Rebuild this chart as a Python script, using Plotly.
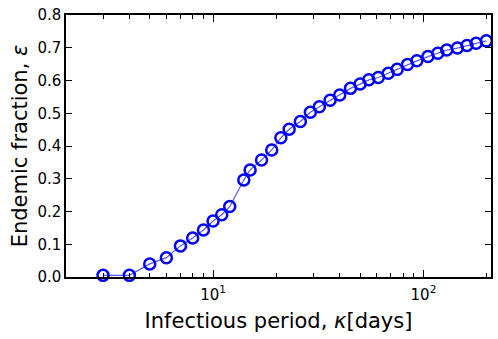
import plotly.graph_objects as go
import numpy as np

kappa = [3, 4, 5, 6, 7, 8, 9, 10, 11, 12, 14, 15, 17, 19, 21, 23, 26, 29, 32, 36,
         40, 45, 50, 55, 61, 68, 75, 84, 93, 105, 117, 129, 145, 161, 178, 199]
epsilon = [0.005, 0.005, 0.040, 0.059, 0.095, 0.119, 0.1435, 0.171, 0.190, 0.215,
           0.296, 0.327, 0.357, 0.388, 0.425, 0.451, 0.475, 0.503, 0.520, 0.540,
           0.556, 0.576, 0.589, 0.602, 0.609, 0.622, 0.634, 0.649, 0.660, 0.673,
           0.683, 0.693, 0.699, 0.707, 0.714, 0.721]

x_tickvals = [10, 100]
x_ticktext = ["10<sup>1</sup>", "10<sup>2</sup>"]
x_minor = [2, 3, 4, 5, 6, 7, 8, 9, 20, 30, 40, 50, 60, 70, 80, 90, 200]
y_tickvals = [0.0, 0.1, 0.2, 0.3, 0.4, 0.5, 0.6, 0.7, 0.8]

fig = go.Figure()
fig.add_trace(go.Scatter(
    x=kappa, y=epsilon, mode="lines+markers",
    line=dict(color="rgba(0,0,255,0.65)", width=1.2),
    marker=dict(symbol="circle-open", size=11, color="blue", line=dict(width=2.5, color="blue")),
    cliponaxis=False, showlegend=False,
))

font = "DejaVu Sans, sans-serif"
fig.update_layout(
    width=498, height=339,
    margin=dict(l=66, r=7, t=15, b=62, autoexpand=False),
    paper_bgcolor="white", plot_bgcolor="white",
    font=dict(family=font, color="black"),
    xaxis=dict(
        type="log", range=[np.log10(2), 2.321], automargin=False,
        tickvals=x_tickvals, ticktext=x_ticktext, ticklabelstandoff=3,
        ticks="inside", ticklen=7, tickwidth=1, tickcolor="black",
        minor=dict(tickvals=x_minor, ticks="inside", ticklen=4, tickwidth=1, tickcolor="black"),
        showline=True, linecolor="black", linewidth=1.5, mirror="ticks",
        showgrid=False, zeroline=False,
        tickfont=dict(size=15, family=font),
        title=dict(text="Infectious period, <i>κ</i>[days]", font=dict(size=21, family=font), standoff=11),
    ),
    yaxis=dict(
        range=[0, 0.8], tickvals=y_tickvals, tickformat=".1f", automargin=False,
        ticks="inside", ticklen=6, tickwidth=1, tickcolor="black",
        showline=True, linecolor="black", linewidth=1.5, mirror="ticks",
        showgrid=False, zeroline=False,
        tickfont=dict(size=15, family=font),
        title=dict(text="Endemic fraction, <i>ε</i>", font=dict(size=21, family=font), standoff=4),
    ),
)

fig.write_html("out.html", config={"displayModeBar": False},
               post_script="document.body.style.margin='0';document.body.style.overflow='hidden';")
